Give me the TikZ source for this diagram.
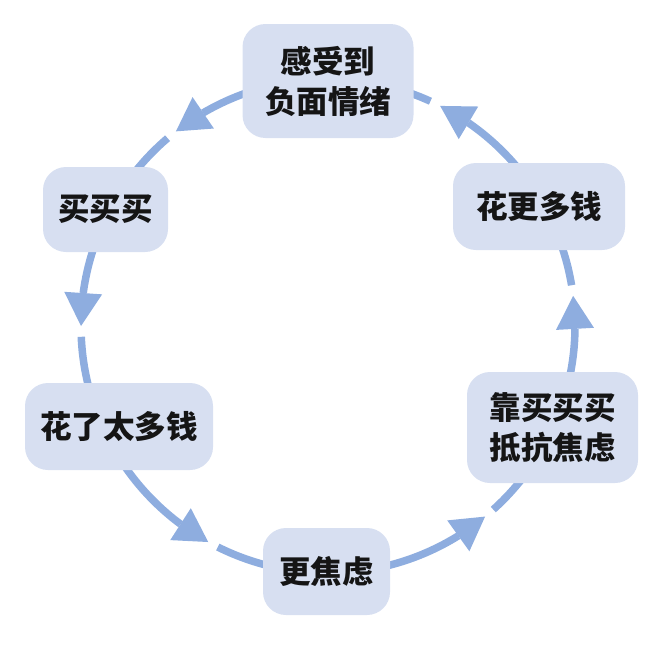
\documentclass[tikz,border=0pt]{standalone}
\usepackage{fontspec}
\newfontfamily\cjk{Noto Sans CJK SC}
\usetikzlibrary{arrows.meta,bending,backgrounds,calc}
\definecolor{boxfill}{HTML}{D7DFF1}
\definecolor{flowc}{HTML}{8EADDF}
\definecolor{txtc}{HTML}{151515}
\begin{document}
\begin{tikzpicture}[x=1pt,y=1pt,
  box/.style={draw=none, fill=boxfill, rounded corners=23pt, inner sep=0pt,
    align=center, text=txtc, font=\cjk\bfseries\fontsize{31.5}{40}\selectfont},
  flow/.style={draw=flowc, line width=7.5pt, line cap=butt},
  tipped/.style={-{Triangle[length=33pt,width=38pt,line width=0pt]}, flowc}
]
\useasboundingbox (0,0) rectangle (656,-645);
\coordinate (O) at (328,-326);
\def\R{247pt}
\def\G{2.5}

\node[box, minimum width=171pt, minimum height=114pt] (n1) at (328,-81) {感受到\\负面情绪};
\node[box, minimum width=125pt, minimum height=85pt] (n2) at (105.5,-209.5) {买买买};
\node[box, minimum width=188pt, minimum height=87pt] (n3) at (119,-426.5) {花了太多钱};
\node[box, minimum width=127pt, minimum height=87pt] (n4) at (326.5,-571.5) {更焦虑};
\node[box, minimum width=171pt, minimum height=111pt] (n5) at (552.5,-427.5) {靠买买买\\抵抗焦虑};
\node[box, minimum width=172pt, minimum height=87pt] (n6) at (539,-206.5) {花更多钱};

\begin{scope}[on background layer]
% n1 -> n2
\draw[flow,tipped] ($(O)+(90:\R)$) coordinate (p1) arc[start angle=90, end angle=128, radius=\R] coordinate (t1);
\draw[flow] ($(O)+(128+\G:\R)$) coordinate (r1) arc[start angle=128+\G, end angle=152.4, radius=\R] coordinate (p2);
% n2 -> n3
\draw[flow,tipped] (p2) arc[start angle=152.4, end angle=180, radius=\R] coordinate (t2);
\draw[flow] ($(O)+(180+\G:\R)$) coordinate (r2) arc[start angle=180+\G, end angle=205.8, radius=\R] coordinate (p3);
% n3 -> n4
\draw[flow,tipped] (p3) arc[start angle=205.8, end angle=241, radius=\R] coordinate (t3);
\draw[flow] ($(O)+(241+\G:\R)$) coordinate (r3) arc[start angle=241+\G, end angle=270, radius=\R] coordinate (p4);
% n4 -> n5
\draw[flow,tipped] (p4) arc[start angle=270, end angle=309.5, radius=\R] coordinate (t4);
\draw[flow] ($(O)+(309.5+\G:\R)$) coordinate (r4) arc[start angle=309.5+\G, end angle=335.6, radius=\R] coordinate (p5);
% n5 -> n6
\draw[flow,tipped] (p5) arc[start angle=335.6, end angle=367, radius=\R] coordinate (t5);
\draw[flow] ($(O)+(367+\G:\R)$) coordinate (r5) arc[start angle=367+\G, end angle=389.4, radius=\R] coordinate (p6);
% n6 -> n1
\draw[flow,tipped] (p6) arc[start angle=389.4, end angle=423, radius=\R] coordinate (t6);
\draw[flow] ($(O)+(423+\G:\R)$) coordinate (r6) arc[start angle=423+\G, end angle=450, radius=\R];
\end{scope}
\end{tikzpicture}
\end{document}
